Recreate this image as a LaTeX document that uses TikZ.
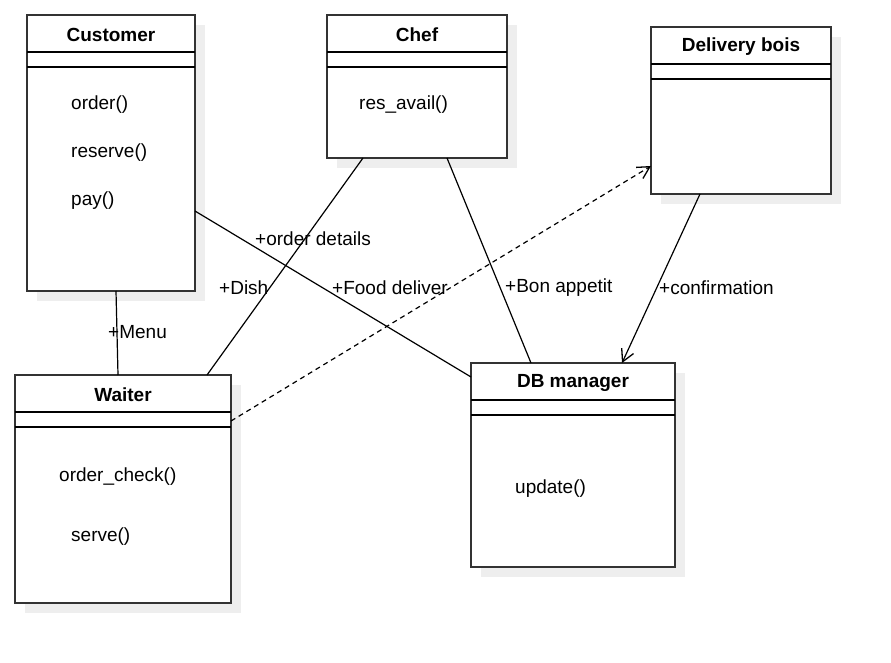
\documentclass[tikz,border=0pt]{standalone}
\usepackage{fontspec}
\setmainfont{Liberation Sans}
\usetikzlibrary{calc,arrows.meta}
\definecolor{shadowc}{HTML}{EEEEEE}
\definecolor{boxline}{HTML}{333333}
\tikzset{
  box/.style={draw=boxline, line width=1.8pt, fill=white, rectangle, inner sep=0pt, outer sep=0pt},
  comp/.style={draw=black, line width=1.2pt},
  titletxt/.style={font=\fontsize{19}{22}\selectfont\bfseries, inner sep=0pt},
  meth/.style={font=\fontsize{19}{22}\selectfont, anchor=west, inner sep=0pt},
  lbl/.style={font=\fontsize{19}{22}\selectfont, anchor=west, inner sep=0pt},
  conn/.style={draw=black, line width=1.2pt},
  openarrow/.style={-{Straight Barb[length=12pt,width=13pt,line width=1.3pt]}},
}
\newcommand\umlbox[6]{%
  \fill[shadowc] (#2+10,#3+10) rectangle ++(#4,#5);
  \node[box, minimum width=#4pt, minimum height=#5pt, anchor=north west] (#1) at (#2,#3) {};
  \node[titletxt] (#1-t) at ($(#1.north)+(0,19.5)$) {#6};
  \draw[comp] ($(#1.north west)+(0,37)$) -- ($(#1.north east)+(0,37)$);
  \draw[comp] ($(#1.north west)+(0,52)$) -- ($(#1.north east)+(0,52)$);
}
\begin{document}
\begin{tikzpicture}[x=1pt,y=-1pt]
\useasboundingbox (0,0) rectangle (891,663);
\fill[white] (0,0) rectangle (891,663);

\umlbox{cust}{27}{15}{168}{276}{Customer}
\umlbox{chef}{327}{15}{180}{143}{Chef}
\umlbox{deliv}{651}{27}{180}{167}{Delivery bois}
\umlbox{waiter}{15}{375}{216}{228}{Waiter}
\umlbox{db}{471}{363}{204}{204}{DB manager}

% methods
\node[meth] (m1) at (71,105) {order()};
\node[meth] (m2) at (71,153) {reserve()};
\node[meth] (m3) at (71,201) {pay()};
\node[meth] (m4) at (359,105) {res\_avail()};
\node[meth] (m5) at (59,477) {order\_check()};
\node[meth] (m6) at (71,537) {serve()};
\node[meth] (m7) at (515,489) {update()};

% connectors
\draw[conn] ($(cust.south west)+(89,0)$) -- ($(waiter.north west)+(103,0)$);
\draw[conn] ($(chef.south west)+(36,0)$) -- ($(waiter.north west)+(192,0)$);
\draw[conn] ($(cust.north east)+(0,196)$) -- ($(db.north west)+(0,14)$);
\draw[conn] ($(chef.south west)+(120,0)$) -- ($(db.north west)+(60,0)$);
\draw[conn, dash pattern=on 5pt off 4pt, openarrow] ($(waiter.north east)+(0,46)$) -- ($(deliv.north west)+(0,139)$);
\draw[conn, openarrow] ($(deliv.south west)+(49,0)$) -- ($(db.north west)+(151,0)$);

% labels
\node[lbl] (l1) at (108,332) {+Menu};
\node[lbl] (l2) at (219,288) {+Dish};
\node[lbl] (l3) at (255,239) {+order details};
\node[lbl] (l4) at (332,288) {+Food deliver};
\node[lbl] (l5) at (505,288) {+Bon appetit};
\node[lbl] (l6) at (659,288) {+confirmation};
\end{tikzpicture}
\end{document}
